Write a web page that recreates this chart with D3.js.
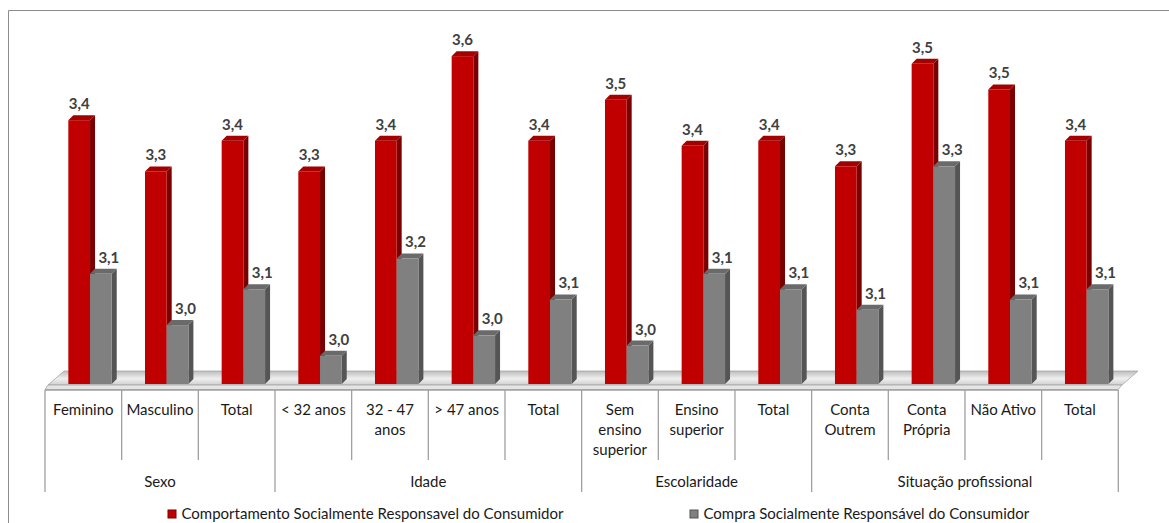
<!DOCTYPE html>
<html>
<head>
<meta charset="utf-8">
<script src="https://cdn.jsdelivr.net/npm/d3@7"></script>
<style>
  html, body { margin: 0; padding: 0; background: #fff; }
  svg { display: block; font-family: Lato, "Open Sans", sans-serif; }
</style>
</head>
<body>
<svg id="chart" width="1169" height="523"></svg>
<script>
// ---- data ----
const categories = ["Feminino", "Masculino", "Total", "< 32 anos", "32 - 47\nanos", "> 47 anos", "Total",
  "Sem\nensino\nsuperior", "Ensino\nsuperior", "Total", "Conta\nOutrem", "Conta\nPrópria", "Não Ativo", "Total"];
const groupNames = ["Sexo", "Idade", "Escolaridade", "Situação profissional"];
const groupSizes = [3, 4, 3, 4];
const seriesNames = ["Comportamento Socialmente Responsavel do Consumidor", "Compra Socialmente Responsável do Consumidor"];
const comportamento = [3.43, 3.33, 3.39, 3.33, 3.39, 3.555, 3.39, 3.47, 3.38, 3.39, 3.34, 3.54, 3.49, 3.39];
const compra = [3.13, 3.03, 3.10, 2.97, 3.16, 3.01, 3.08, 2.99, 3.13, 3.10, 3.06, 3.34, 3.08, 3.10];

// ---- layout ----
const svg = d3.select("#chart");
const baseY = 384;
const x = d3.scaleBand().domain(d3.range(categories.length)).range([45, 1118.3]).padding(0);
const y = d3.scaleLinear().domain([2.915, 3.649]).range([baseY, 8]);
const inner = d3.scaleBand().domain([0, 1]).range([-15, 28.4]).padding(0);
const colors = [
  { front: "#C00000", side: "#7A0000", top: "#A30000" },
  { front: "#808080", side: "#555555", top: "#6A6A6A" }
];
const dx = 5, dy = 5;
const fmt = v => d3.format(".1f")(v).replace(".", ",");

// outer frame (left + top)
svg.append("path").attr("d", "M8.5,523 L8.5,10.5 L1169,10.5")
  .attr("fill", "none").attr("stroke", "#8c8c8c").attr("stroke-width", 1);

// floor
const defs = svg.append("defs");
const fg = defs.append("linearGradient").attr("id", "floorGrad").attr("x1", 0).attr("y1", 0).attr("x2", 0).attr("y2", 1);
fg.append("stop").attr("offset", "0%").attr("stop-color", "#bdbdbd");
fg.append("stop").attr("offset", "55%").attr("stop-color", "#efefef");
fg.append("stop").attr("offset", "100%").attr("stop-color", "#cfcfcf");
svg.append("polygon")
  .attr("points", [[64, 371], [1138, 371], [1122, 385], [48, 385]].join(" "))
  .attr("fill", "url(#floorGrad)").attr("stroke", "#a6a6a6").attr("stroke-width", 0.8);
svg.append("polygon")
  .attr("points", [[48, 385], [1122, 385], [1118, 389.5], [45, 389.5]].join(" "))
  .attr("fill", "#e4e4e4").attr("stroke", "#a6a6a6").attr("stroke-width", 0.8);

// bars
const series = [comportamento, compra];
const bw = inner.bandwidth();
categories.forEach((c, i) => {
  const cx = x(i) + x.bandwidth() / 2;
  series.forEach((vals, s) => {
    const v = vals[i];
    const x0 = cx + inner(s);
    const yt = y(v);
    const col = colors[s];
    const g = svg.append("g");
    g.append("polygon")
      .attr("points", [[x0 + bw, yt], [x0 + bw + dx, yt - dy], [x0 + bw + dx, baseY - dy], [x0 + bw, baseY]].join(" "))
      .attr("fill", col.side);
    g.append("polygon")
      .attr("points", [[x0, yt], [x0 + dx, yt - dy], [x0 + bw + dx, yt - dy], [x0 + bw, yt]].join(" "))
      .attr("fill", col.top);
    g.append("rect").attr("x", x0).attr("y", yt).attr("width", bw).attr("height", baseY - yt)
      .attr("fill", col.front);
  });
});

// value labels
categories.forEach((c, i) => {
  const cx = x(i) + x.bandwidth() / 2;
  series.forEach((vals, s) => {
    const v = vals[i];
    const lx = cx + inner(s) + bw / 2 + (s === 1 ? 8 : 0);
    svg.append("text").attr("x", lx).attr("y", y(v) - 11)
      .attr("text-anchor", "middle").attr("font-size", 15).attr("font-weight", "bold")
      .attr("fill", "#404040").text(fmt(v));
  });
});

// category axis
const axisCol = "#a0a0a0";
svg.append("line").attr("x1", 45).attr("x2", 1118.3).attr("y1", 390).attr("y2", 390)
  .attr("stroke", axisCol).attr("stroke-width", 1.3);
const groupStarts = [0];
groupSizes.forEach((n, k) => groupStarts.push(groupStarts[k] + n));
d3.range(categories.length + 1).forEach(i => {
  const xx = i < categories.length ? x(i) : x.range()[1];
  const isGroup = groupStarts.includes(i);
  svg.append("line").attr("x1", xx).attr("x2", xx).attr("y1", 390).attr("y2", isGroup ? 492 : 460)
    .attr("stroke", axisCol).attr("stroke-width", 1.3);
});
categories.forEach((c, i) => {
  const cx = x(i) + x.bandwidth() / 2;
  const t = svg.append("text").attr("x", cx).attr("y", 415).attr("text-anchor", "middle")
    .attr("font-size", 15).attr("fill", "#1a1a1a");
  c.split("\n").forEach((line, k) => {
    t.append("tspan").attr("x", cx).attr("y", 415 + k * 20).text(line);
  });
});
groupNames.forEach((g, k) => {
  const a = x(groupStarts[k]);
  const b = groupStarts[k + 1] < categories.length ? x(groupStarts[k + 1]) : x.range()[1];
  svg.append("text").attr("x", (a + b) / 2).attr("y", 487).attr("text-anchor", "middle")
    .attr("font-size", 15).attr("fill", "#1a1a1a").text(g);
});

// legend
const legendPos = [168, 690];
seriesNames.forEach((name, s) => {
  const lx = legendPos[s];
  svg.append("rect").attr("x", lx).attr("y", 510).attr("width", 8).attr("height", 8)
    .attr("fill", colors[s].front).attr("stroke", colors[s].side).attr("stroke-width", 1);
  svg.append("text").attr("x", lx + 13.5).attr("y", 519).attr("font-size", 15)
    .attr("fill", "#1a1a1a").text(name);
});
</script>
</body>
</html>
